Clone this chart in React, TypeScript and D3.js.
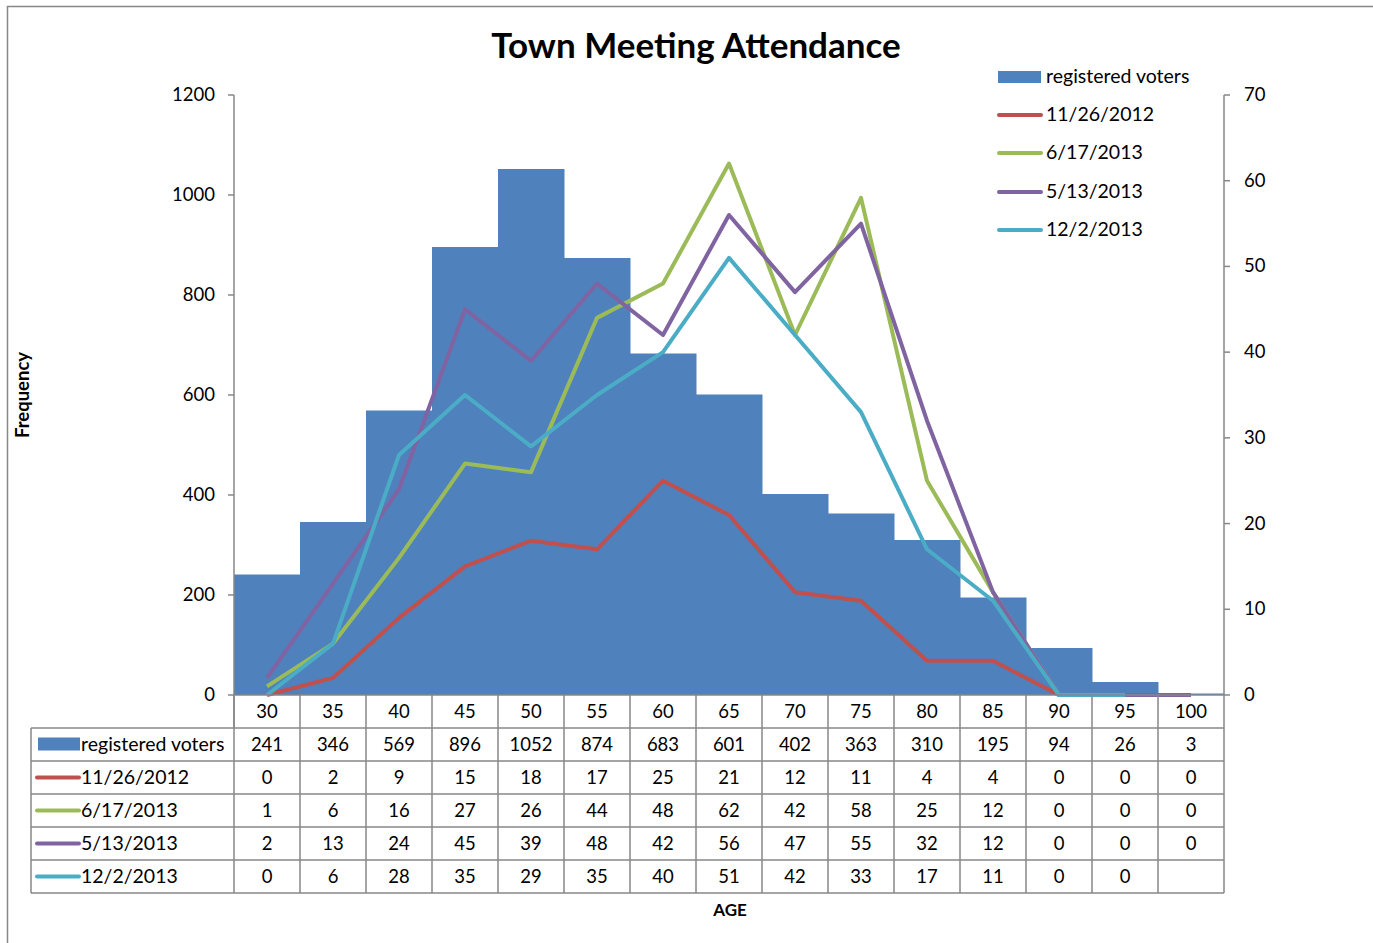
import React from "react";
import * as d3 from "d3";

const ages = ["30", "35", "40", "45", "50", "55", "60", "65", "70", "75", "80", "85", "90", "95", "100"];
const registered = [241, 346, 569, 896, 1052, 874, 683, 601, 402, 363, 310, 195, 94, 26, 3];
const nov2012 = [0, 2, 9, 15, 18, 17, 25, 21, 12, 11, 4, 4, 0, 0, 0];
const jun2013 = [1, 6, 16, 27, 26, 44, 48, 62, 42, 58, 25, 12, 0, 0, 0];
const may2013 = [2, 13, 24, 45, 39, 48, 42, 56, 47, 55, 32, 12, 0, 0, 0];
const dec2013: (number | null)[] = [0, 6, 28, 35, 29, 35, 40, 51, 42, 33, 17, 11, 0, 0, null];

const leftTicks = [0, 200, 400, 600, 800, 1000, 1200];
const rightTicks = [0, 10, 20, 30, 40, 50, 60, 70];

const lineSeries = [
  { name: "11/26/2012", values: nov2012 as (number | null)[], color: "#C0504D" },
  { name: "6/17/2013", values: jun2013 as (number | null)[], color: "#9BBB59" },
  { name: "5/13/2013", values: may2013 as (number | null)[], color: "#8064A2" },
  { name: "12/2/2013", values: dec2013, color: "#4BACC6" },
];
const barColor = "#4F81BD";
const gridGray = "#878787";
const font = "Lato, 'Open Sans', sans-serif";

export default function App() {
  const width = 1373;
  const height = 943;
  const plot = { left: 234, right: 1224, top: 95, bottom: 695 };

  const x = d3.scaleBand().domain(ages).range([plot.left, plot.right]).padding(0);
  const yLeft = d3.scaleLinear().domain([0, 1200]).range([plot.bottom, plot.top]);
  const yRight = d3.scaleLinear().domain([0, 70]).range([plot.bottom, plot.top]);
  const bw = x.bandwidth();

  const line = d3
    .line<number | null>()
    .defined((d) => d !== null)
    .x((_, i) => (x(ages[i]) as number) + bw / 2)
    .y((d) => yRight(d as number));

  // table geometry
  const rowH = 33;
  const headerTop = plot.bottom;
  const tableTop = 728;
  const tableLeft = 31;
  const rows = [
    { name: "registered voters", values: registered as (number | null)[], color: barColor, bar: true },
    ...lineSeries.map((s) => ({ ...s, bar: false })),
  ];
  const tableBottom = tableTop + rows.length * rowH;

  const legendItems = [
    { name: "registered voters", color: barColor, bar: true },
    ...lineSeries.map((s) => ({ name: s.name, color: s.color, bar: false })),
  ];
  const legendY = [77, 115, 153, 192, 230];

  return (
    <div style={{ position: "absolute", left: 0, top: 0 }}>
      <svg width={width} height={height} style={{ display: "block", background: "#fff" }}>
        <rect x={7.5} y={6.5} width={1500} height={1100} fill="#fff" stroke={gridGray} strokeWidth={1.5} />

        <text x={696} y={58} textAnchor="middle" fontFamily={font} fontWeight="bold" fontSize={35}>
          Town Meeting Attendance
        </text>

        {/* bars */}
        {registered.map((v, i) => (
          <rect
            key={ages[i]}
            x={x(ages[i])}
            y={yLeft(v)}
            width={bw + 0.5}
            height={plot.bottom - yLeft(v)}
            fill={barColor}
          />
        ))}

        {/* lines */}
        {lineSeries.map((s) => (
          <path
            key={s.name}
            d={line(s.values) || ""}
            fill="none"
            stroke={s.color}
            strokeWidth={4}
            strokeLinejoin="round"
          />
        ))}

        {/* left axis */}
        <line x1={plot.left} x2={plot.left} y1={plot.top} y2={tableTop} stroke={gridGray} strokeWidth={1.5} />
        {leftTicks.map((t) => (
          <g key={t}>
            <line x1={plot.left - 6} x2={plot.left} y1={yLeft(t)} y2={yLeft(t)} stroke={gridGray} strokeWidth={1.5} />
            <text x={215} y={yLeft(t) + 6} textAnchor="end" fontFamily={font} fontSize={18.5}>
              {t}
            </text>
          </g>
        ))}

        {/* right axis */}
        <line x1={plot.right} x2={plot.right} y1={plot.top} y2={plot.bottom} stroke={gridGray} strokeWidth={1.5} />
        {rightTicks.map((t) => (
          <g key={t}>
            <line x1={plot.right} x2={plot.right + 6} y1={yRight(t)} y2={yRight(t)} stroke={gridGray} strokeWidth={1.5} />
            <text x={1244} y={yRight(t) + 6} textAnchor="start" fontFamily={font} fontSize={18.5}>
              {t}
            </text>
          </g>
        ))}

        {/* x axis baseline */}
        <line x1={plot.left} x2={plot.right} y1={plot.bottom} y2={plot.bottom} stroke={gridGray} strokeWidth={1.5} />

        {/* data table */}
        {ages.map((a) => (
          <text key={a} x={(x(a) as number) + bw / 2} y={headerTop + 23} textAnchor="middle" fontFamily={font} fontSize={18.5}>
            {a}
          </text>
        ))}
        {d3.range(ages.length + 1).map((i) => {
          const xx = plot.left + i * bw;
          return <line key={i} x1={xx} x2={xx} y1={headerTop} y2={tableBottom} stroke={gridGray} strokeWidth={1.5} />;
        })}
        <line x1={tableLeft} x2={tableLeft} y1={tableTop} y2={tableBottom} stroke={gridGray} strokeWidth={1.5} />
        {d3.range(rows.length + 1).map((r) => {
          const yy = tableTop + r * rowH;
          return <line key={r} x1={tableLeft} x2={plot.right} y1={yy} y2={yy} stroke={gridGray} strokeWidth={1.5} />;
        })}
        {rows.map((row, r) => {
          const cy = tableTop + r * rowH + rowH / 2;
          return (
            <g key={row.name}>
              {row.bar ? (
                <rect x={38} y={cy - 7} width={42} height={13} fill={row.color} />
              ) : (
                <line x1={37} x2={79} y1={cy} y2={cy} stroke={row.color} strokeWidth={4} strokeLinecap="round" />
              )}
              <text x={81} y={cy + 6} fontFamily={font} fontSize={19.5}>
                {row.name}
              </text>
              {row.values.map((v, i) =>
                v === null ? null : (
                  <text key={i} x={(x(ages[i]) as number) + bw / 2} y={cy + 6} textAnchor="middle" fontFamily={font} fontSize={18.5}>
                    {v}
                  </text>
                )
              )}
            </g>
          );
        })}

        {/* axis titles */}
        <text
          transform={`translate(29, 395) rotate(-90)`}
          textAnchor="middle"
          fontFamily={font}
          fontWeight="bold"
          fontSize={18.5}
        >
          Frequency
        </text>
        <text x={730} y={916} textAnchor="middle" fontFamily={font} fontWeight="bold" fontSize={17}>
          AGE
        </text>

        {/* legend */}
        {legendItems.map((item, i) => {
          const cy = legendY[i];
          return (
            <g key={item.name}>
              {item.bar ? (
                <rect x={998} y={cy - 6} width={43} height={12} fill={item.color} />
              ) : (
                <line x1={999} x2={1041} y1={cy} y2={cy} stroke={item.color} strokeWidth={4} strokeLinecap="round" />
              )}
              <text x={1046} y={cy + 6} fontFamily={font} fontSize={19.5}>
                {item.name}
              </text>
            </g>
          );
        })}
      </svg>
    </div>
  );
}
